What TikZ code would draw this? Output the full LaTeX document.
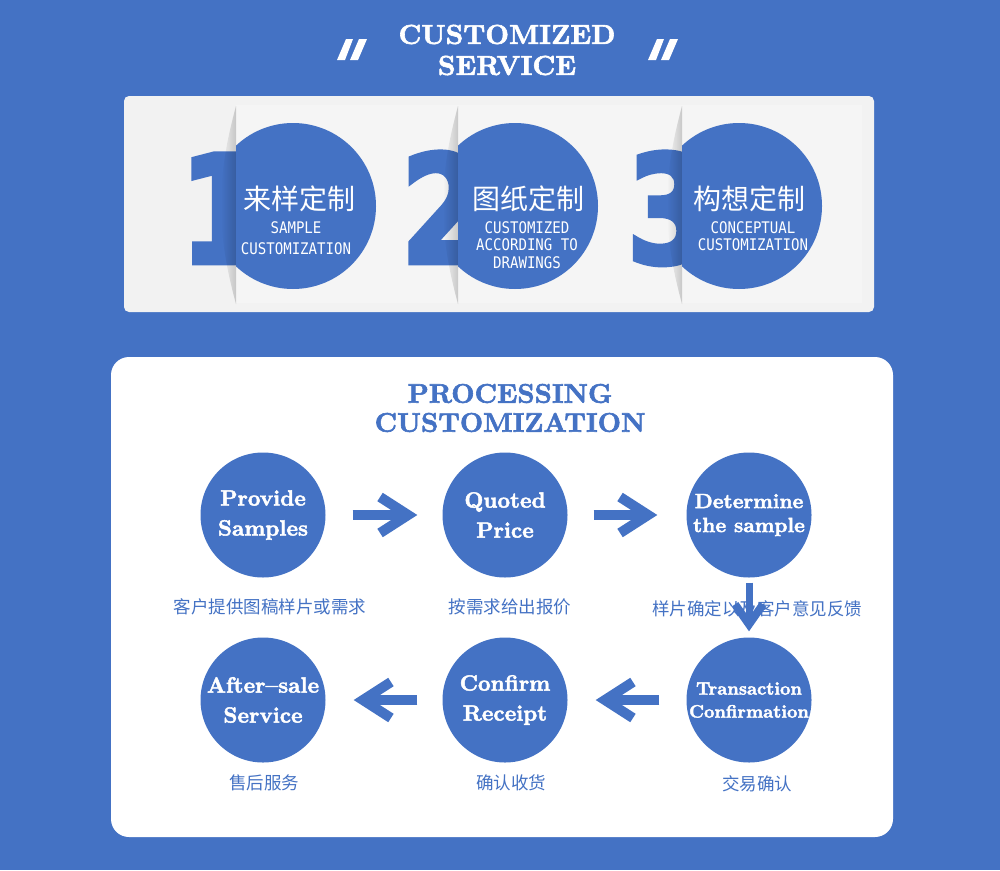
\documentclass[tikz,border=0pt]{standalone}
\usepackage{fontspec}
\usetikzlibrary{arrows.meta,fadings}
\newfontfamily\cjkfont{Noto Sans CJK SC}
\newfontfamily\capsfont[FakeStretch=0.88]{DejaVu Sans Mono}
\newfontfamily\digitfont[FakeStretch=0.8,FakeBold=3]{DejaVu Sans Bold}
\newfontfamily\heavyserif[FakeBold=2.2]{lmroman10-bold.otf}
\definecolor{Bblue}{RGB}{68,114,196}
\definecolor{Pgray}{RGB}{242,242,242}
\definecolor{Cgray}{RGB}{245,245,245}
\tikzfading[name=edge shade,left color=transparent!100,right color=transparent!82]

\begin{document}
\begin{tikzpicture}[x=1pt,y=-1pt,
  bigdot/.style={circle,fill=Bblue,minimum size=125pt,inner sep=0pt,text=white,align=center,font=\heavyserif\fontsize{22}{30}\selectfont},
  note/.style={text=Bblue,font=\cjkfont\fontsize{17.5}{20}\selectfont},
  cntext/.style={text=white,inner sep=0pt,font=\cjkfont\fontsize{28}{30}\selectfont},
  entext/.style={text=white,inner sep=0pt,align=center,font=\capsfont\fontsize{16}{17.5}\selectfont},
  numeral/.style={text=Bblue,anchor=base west,inner sep=0pt,font=\digitfont\fontsize{150}{150}\selectfont},
  flow/.style={draw=Bblue,line width=10pt,-{Straight Barb[length=28pt,width=36pt,line width=10pt,line cap=butt,line join=miter]}},
  flowdown/.style={draw=Bblue,line width=7pt,-{Straight Barb[length=20pt,width=28pt,line width=8pt,line cap=butt,line join=miter]}}]
\useasboundingbox (0,0) rectangle (1000,870);
\fill[Bblue] (0,0) rectangle (1000,870);

% heading
\fill[white] (337,60) -- (345,60) -- (353,39) -- (346,39) -- cycle;
\fill[white] (350,60) -- (358,60) -- (367,39) -- (359,39) -- cycle;
\fill[white] (648,60) -- (656,60) -- (664,39) -- (657,39) -- cycle;
\fill[white] (661,60) -- (669,60) -- (678,39) -- (670,39) -- cycle;
\node[text=white,align=center,font=\heavyserif\fontsize{27.5}{31}\selectfont] (title) at (507,50) {CUSTOMIZED\\SERVICE};

% three ways panel
\fill[Pgray,rounded corners=5pt] (124,96) rectangle (874,312);
\node[numeral] (one) at (180,263) {1};
\fill[Cgray] (236,105) rectangle (862,303);
\fill[black,path fading=edge shade] (236,106) .. controls (224,150) and (221,180) .. (221,205) .. controls (221,230) and (224,260) .. (236,304) -- cycle;
\begin{scope}
\clip (236,100) rectangle (870,310);
\fill[Bblue] (293,206) circle[radius=83];
\end{scope}
\node[numeral] (two) at (401,263) {2};
\fill[Cgray] (458,105) rectangle (862,303);
\fill[black,path fading=edge shade] (458,106) .. controls (446,150) and (443,180) .. (443,205) .. controls (443,230) and (446,260) .. (458,304) -- cycle;
\begin{scope}
\clip (458,100) rectangle (870,310);
\fill[Bblue] (515,206) circle[radius=83];
\end{scope}
\node[numeral] (three) at (627,263) {3};
\fill[Cgray] (682,105) rectangle (862,303);
\fill[black,path fading=edge shade] (682,106) .. controls (670,150) and (667,180) .. (667,205) .. controls (667,230) and (670,260) .. (682,304) -- cycle;
\begin{scope}
\clip (682,100) rectangle (870,310);
\fill[Bblue] (739,206) circle[radius=83];
\end{scope}
\node[cntext] (onecn) at (299,199) {来样定制};
\node[entext,font=\capsfont\fontsize{16}{21}\selectfont] (oneen) at (296,238) {SAMPLE\\CUSTOMIZATION};
\node[cntext] (twocn) at (528,199) {图纸定制};
\node[entext] (twoen) at (527,245) {CUSTOMIZED\\ACCORDING TO\\DRAWINGS};
\node[cntext] (threecn) at (749,199) {构想定制};
\node[entext] (threeen) at (753,236) {CONCEPTUAL\\CUSTOMIZATION};

% process panel
\fill[white,rounded corners=18pt] (111,357) rectangle (893,837);
\node[text=Bblue,align=center,font=\heavyserif\fontsize{27}{29}\selectfont] (subtitle) at (510,408) {PROCESSING\\CUSTOMIZATION};

\node[bigdot] (give) at (263,515) {Provide\\Samples};
\node[bigdot] (quote) at (505,515) {Quoted\\Price};
\node[bigdot,font=\heavyserif\fontsize{20.5}{24}\selectfont] (fix) at (749,515) {Determine\\the sample};
\node[bigdot,font=\heavyserif\fontsize{18}{23}\selectfont] (deal) at (749,700) {Transaction\\Confirmation};
\node[bigdot] (take) at (505,700) {Confirm\\Receipt};
\node[bigdot] (care) at (263,700) {After–sale\\Service};

\node[note] (givetxt) at (270,607) {客户提供图稿样片或需求};
\node[note] (quotetxt) at (510,607) {按需求给出报价};
\node[note] (fixtxt) at (757,609) {样片确定以及客户意见反馈};
\node[note] (caretxt) at (264,783) {售后服务};
\node[note] (taketxt) at (511,783) {确认收货};
\node[note] (dealtxt) at (757,784) {交易确认};

\draw[flow,shorten <=27pt,shorten >=25pt] (give) -- (quote);
\draw[flow,shorten <=26pt,shorten >=29pt] (quote) -- (fix);
\draw[flowdown,shorten <=5pt,shorten >=6pt] (fix) -- (deal);
\draw[flow,shorten <=27pt,shorten >=28pt] (deal) -- (take);
\draw[flow,shorten <=25pt,shorten >=28pt] (take) -- (care);
\end{tikzpicture}
\end{document}
